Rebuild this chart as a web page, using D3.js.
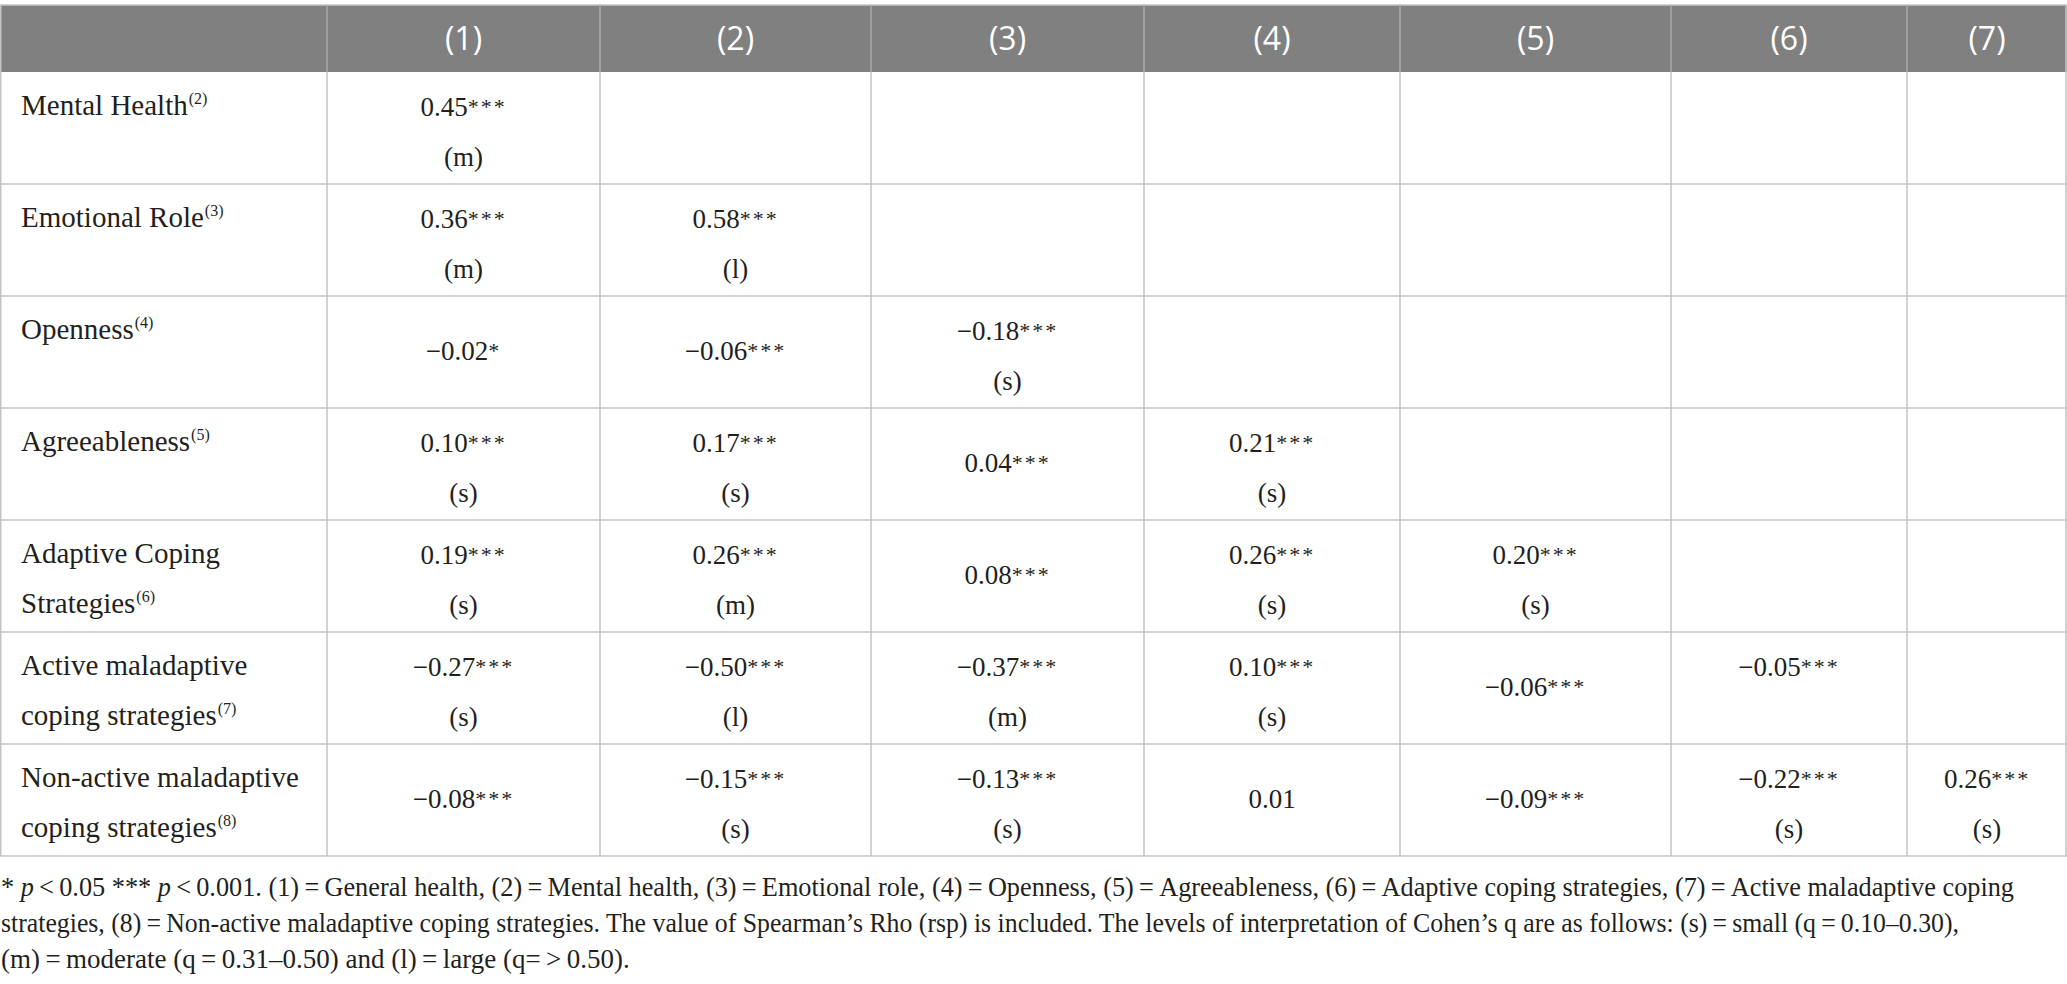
<!DOCTYPE html>
<html>
<head>
<meta charset="utf-8">
<script src="https://cdn.jsdelivr.net/npm/d3@7"></script>
<style>
  body { margin: 0; background: #fff; }
</style>
</head>
<body>
<div id="chart"></div>
<script>
// table contents
var columns = ["(1)", "(2)", "(3)", "(4)", "(5)", "(6)", "(7)"];
var rowLabels = [["Mental Health"], ["Emotional Role"], ["Openness"], ["Agreeableness"],
                 ["Adaptive Coping", "Strategies"], ["Active maladaptive", "coping strategies"],
                 ["Non-active maladaptive", "coping strategies"]];
var rowRefs = ["(2)", "(3)", "(4)", "(5)", "(6)", "(7)", "(8)"];
var rho = [
  [0.45],
  [0.36, 0.58],
  [-0.02, -0.06, -0.18],
  [0.10, 0.17, 0.04, 0.21],
  [0.19, 0.26, 0.08, 0.26, 0.20],
  [-0.27, -0.50, -0.37, 0.10, -0.06, -0.05],
  [-0.08, -0.15, -0.13, 0.01, -0.09, -0.22, 0.26]
];
var stars = [
  ["***"],
  ["***", "***"],
  ["*", "***", "***"],
  ["***", "***", "***", "***"],
  ["***", "***", "***", "***", "***"],
  ["***", "***", "***", "***", "***", "***"],
  ["***", "***", "***", "", "***", "***", "***"]
];
// null = value centred in cell, "" = value on first line without effect label
var effect = [
  ["(m)"],
  ["(m)", "(l)"],
  [null, null, "(s)"],
  ["(s)", "(s)", null, "(s)"],
  ["(s)", "(m)", null, "(s)", "(s)"],
  ["(s)", "(l)", "(m)", "(s)", null, ""],
  [null, "(s)", "(s)", null, null, "(s)", "(s)"]
];
var footLines = [
  [["i", "* "], ["i", "p"], ["", "\u2009<\u20090.05 *** "], ["i", "p"], ["", "\u2009<\u20090.001. (1)\u2009=\u2009General health, (2)\u2009=\u2009Mental health, (3)\u2009=\u2009Emotional role, (4)\u2009=\u2009Openness, (5)\u2009=\u2009Agreeableness, (6)\u2009=\u2009Adaptive coping strategies, (7)\u2009=\u2009Active maladaptive coping"]],
  [["", "strategies, (8)\u2009=\u2009Non-active maladaptive coping strategies. The value of Spearman\u2019s Rho (rsp) is included. The levels of interpretation of Cohen\u2019s q are as follows: (s)\u2009=\u2009small (q\u2009=\u20090.10\u20130.30),"]],
  [["", "(m)\u2009=\u2009moderate (q\u2009=\u20090.31\u20130.50) and (l)\u2009=\u2009large (q=\u2009>\u20090.50)."]]
];

var width = 2067, height = 984;
var colWidths = [327, 273, 271, 273, 256, 271, 236, 160];
var serif = "'Liberation Serif', 'Times New Roman', serif";
var ink = "#231f20";

var svg = d3.select("#chart").append("svg")
    .attr("width", width)
    .attr("height", height);

var keys = ["label"].concat(columns);
var offsets = [0].concat(Array.from(d3.cumsum(colWidths)));
var x = d3.scaleOrdinal().domain(keys).range(offsets.slice(0, keys.length));
var w = d3.scaleOrdinal().domain(keys).range(colWidths);
var y = d3.scaleBand().domain(d3.range(rowLabels.length)).range([72, 856]);
var headTop = 5, headBottom = 72;

// header band
svg.append("rect")
    .attr("x", 0).attr("y", headTop)
    .attr("width", width).attr("height", headBottom - headTop)
    .attr("fill", "#808080");
svg.append("line")
    .attr("x1", 0).attr("x2", width).attr("y1", headTop).attr("y2", headTop)
    .attr("stroke", "#c4c4c4").attr("stroke-width", 1.5);

svg.selectAll(".hsep")
    .data(columns)
  .enter().append("line")
    .attr("class", "hsep")
    .attr("x1", function(d) { return x(d); })
    .attr("x2", function(d) { return x(d); })
    .attr("y1", headTop).attr("y2", headBottom)
    .attr("stroke", "#a8a8a8").attr("stroke-width", 1.5);

svg.selectAll(".head")
    .data(columns)
  .enter().append("text")
    .attr("class", "head")
    .attr("x", function(d) { return x(d) + w(d) / 2; })
    .attr("y", (headTop + headBottom) / 2 + 11)
    .attr("text-anchor", "middle")
    .attr("fill", "#fff")
    .style("font-family", "'Open Sans', sans-serif")
    .style("font-size", "32px")
    .text(function(d) { return d; });

// body grid
var grid = svg.append("g")
    .attr("stroke", "#c4c4c4")
    .attr("stroke-width", 1.5);

grid.selectAll(".hline")
    .data(d3.range(rowLabels.length))
  .enter().append("line")
    .attr("x1", 0).attr("x2", width)
    .attr("y1", function(d) { return y(d) + y.bandwidth(); })
    .attr("y2", function(d) { return y(d) + y.bandwidth(); });

grid.selectAll(".vline")
    .data(keys)
  .enter().append("line")
    .attr("x1", function(d) { return Math.max(x(d), 0.75); })
    .attr("x2", function(d) { return Math.max(x(d), 0.75); })
    .attr("y1", headBottom).attr("y2", y.range()[1]);

grid.append("line")
    .attr("x1", width - 1).attr("x2", width - 1)
    .attr("y1", headTop).attr("y2", y.range()[1]);
grid.append("line")
    .attr("x1", 0.75).attr("x2", 0.75)
    .attr("y1", headTop).attr("y2", headBottom);

// row labels
var rows = svg.selectAll(".row")
    .data(rowLabels)
  .enter().append("g")
    .attr("class", "row")
    .attr("transform", function(d, i) { return "translate(0," + y(i) + ")"; });

rows.each(function(lines, i) {
  var g = d3.select(this);
  lines.forEach(function(line, k) {
    var t = g.append("text")
        .attr("x", 21)
        .attr("y", 43 + k * 50)
        .attr("fill", ink)
        .style("font-family", serif)
        .style("font-size", "29px")
        .text(line);
    if (k == lines.length - 1) {
      t.append("tspan")
          .attr("dx", 1)
          .attr("dy", -11)
          .style("font-size", "16px")
          .text(rowRefs[i]);
    }
  });
});

// correlation cells
function fmt(v) {
  var s = Math.abs(v).toFixed(2);
  return v < 0 ? "\u2212" + s : s;
}

rows.each(function(vals, i) {
  var g = d3.select(this);
  rho[i].forEach(function(v, j) {
    var col = columns[j];
    var cx = x(col) + w(col) / 2;
    var eff = effect[i][j];
    var t = g.append("text")
        .attr("x", cx)
        .attr("y", eff === null ? 64 : 44)
        .attr("text-anchor", "middle")
        .attr("fill", ink)
        .style("font-family", serif)
        .style("font-size", "27px")
        .text(fmt(v));
    if (stars[i][j]) {
      t.append("tspan")
          .attr("dy", -2)
          .style("font-size", "22px")
          .style("letter-spacing", "2px")
          .text(stars[i][j]);
    }
    if (eff) {
      g.append("text")
          .attr("x", cx)
          .attr("y", 94)
          .attr("text-anchor", "middle")
          .attr("fill", ink)
          .style("font-family", serif)
          .style("font-size", "27px")
          .text(eff);
    }
  });
});

// footnote
var footLen = [2013, 1958, null];
footLines.forEach(function(parts, k) {
  var t = svg.append("text")
      .attr("x", 1)
      .attr("y", 896 + k * 36)
      .attr("fill", ink)
      .style("font-family", serif)
      .style("font-size", "27px");
  if (footLen[k]) t.attr("textLength", footLen[k]).attr("lengthAdjust", "spacingAndGlyphs");
  parts.forEach(function(p) {
    t.append("tspan")
        .style("font-style", p[0] == "i" && p[1] == "p" ? "italic" : "normal")
        .text(p[1]);
  });
});
</script>
</body>
</html>
